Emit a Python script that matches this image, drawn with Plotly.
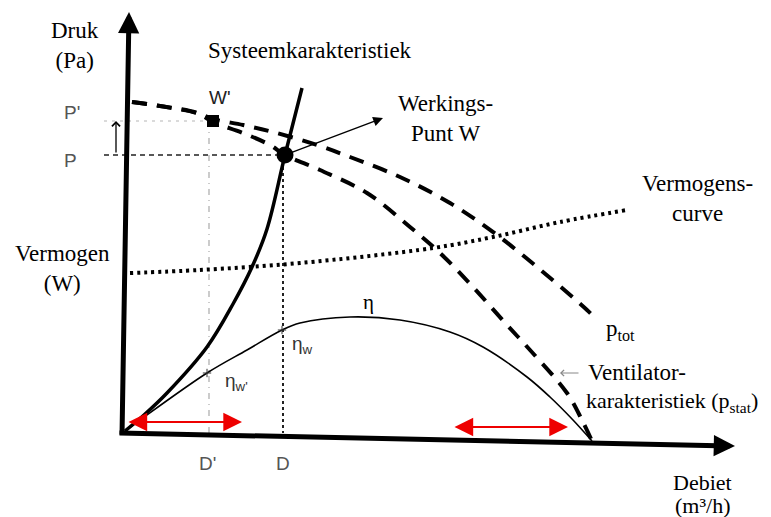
import plotly.graph_objects as go

# diagram units: debiet (x) and druk (y), origin at the axis corner
sys_q = [1, 20, 43, 83, 109, 128, 143, 161, 178]
sys_p = [2, 18, 40, 86, 129, 166, 204, 278, 345]

ptot_q = [8, 36, 73, 89, 119, 149, 193, 226, 276, 326, 373, 419, 463, 473]
ptot_p = [331, 327, 320, 314, 308, 301, 288, 276, 256, 230, 198, 161, 123, 113]

pstat_q = [8, 36, 73, 89, 119, 146, 161, 196, 243, 286, 316, 349, 383, 406, 443, 458, 468]
pstat_p = [331, 327, 320, 311, 300, 288, 278, 263, 240, 206, 180, 146, 108, 83, 40, 13, -8]

verm_q = [6, 76, 176, 309, 369, 436, 503]
verm_p = [160, 163, 170, 185, 196, 211, 223]

eta_q = [1, 16, 83, 123, 158, 176, 226, 276, 326, 359, 403, 426, 449, 468]
eta_p = [2, 13, 60, 83, 103, 110, 116, 113, 101, 86, 56, 36, 13, -8]

# werkpunten W and W'
w_q, w_p = 161, 278
w2_q, w2_p = 89, 312
D_ticks = ["D'", "D"]

FONT = "Liberation Serif"
HAND = "Liberation Sans"

fig = go.Figure()


def line(x, y, color="black", width=2, dash="solid", shape="linear"):
    fig.add_trace(go.Scatter(x=x, y=y, mode="lines", hoverinfo="skip",
                             line=dict(color=color, width=width, dash=dash,
                                       shape=shape)))


# guide lines
line([-20, w2_q], [w2_p, w2_p], color="#b5b5b5", width=1.2, dash="3px,5px")
line([-20, w_q], [w_p, w_p], color="#222", width=1.5, dash="5px,4px")
line([w2_q - 4, w2_q - 4], [w2_p, 0], color="#aaaaaa", width=1.2, dash="6px,5px,1px,5px")
line([w_q - 2, w_q - 2], [w_p, 0], color="#222", width=2, dash="3px,3px")

# curves
line(verm_q, verm_p, width=4, dash="3px,4px", shape="spline")
line(ptot_q, ptot_p, width=4, dash="15px,10px", shape="spline")
line(pstat_q, pstat_p, width=4, dash="15px,10px", shape="spline")
line(eta_q, eta_p, width=1.6, shape="spline")
line(sys_q, sys_p, width=3.5, shape="spline")

# points
fig.add_trace(go.Scatter(x=[w_q], y=[w_p], mode="markers", hoverinfo="skip",
                         marker=dict(color="black", size=17)))
fig.add_trace(go.Scatter(x=[w2_q], y=[w2_p], mode="markers", hoverinfo="skip",
                         marker=dict(color="black", size=12, symbol="square")))
fig.add_trace(go.Scatter(x=[83, 158], y=[60, 103], mode="markers", hoverinfo="skip",
                         marker=dict(color="#333", size=6, symbol="cross-thin",
                                     line=dict(width=1, color="#333"))))


def arrow(tail, head, color="black", width=1.5, size=1.0, head_type=2, both=False):
    fig.add_annotation(x=head[0], y=head[1], ax=tail[0], ay=tail[1],
                       xref="x", yref="y", axref="x", ayref="y", text="",
                       showarrow=True, arrowcolor=color, arrowwidth=width,
                       arrowsize=size, arrowhead=head_type,
                       startarrowhead=head_type, startarrowsize=size,
                       arrowside="end+start" if both else "end")


# axes
arrow((-2, -3), (5, 421), width=5, size=0.85)
arrow((-6, 0), (611, -13), width=5, size=0.85)

# annotations arrows
arrow((w_q, w_p), (259, 315), width=1.4, size=1.4)
arrow((-8, 279), (-8, 312), width=1.3, size=1.2, head_type=4)
arrow((456, 60), (436, 60), color="#888", width=1, size=1.2, head_type=4)
arrow((3, 11), (118, 11), color="#ee0000", width=2.2, size=1.7, both=True)
arrow((329, 6), (444, 6), color="#ee0000", width=2.2, size=1.7, both=True)


def label(txt, x, y, size=23, font=FONT, color="black", anchor="center"):
    fig.add_annotation(x=x, y=y, xref="x", yref="y", text=txt, showarrow=False,
                       xanchor=anchor, yanchor="middle", align="center",
                       font=dict(family=font, size=size, color=color))


label("Druk<br>(Pa)", -49, 388)
label("Systeemkarakteristiek", 186, 383)
label("Werkings-<br>Punt W", 321, 315)
label("Vermogens-<br>curve", 573, 235)
label("Vermogen<br>(W)", -62, 165)
label("η", 244, 131, size=21)
label("p<sub>tot</sub>", 496, 103)
label("Ventilator-", 462, 61, anchor="left")
label("karakteristiek (p<sub>stat</sub>)", 460, 31, size=22, anchor="left")
label("Debiet", 578, -49, size=22)
label("(m³/h)", 578, -72, size=22)

# handwritten marks
label("W'", 96, 336, size=19, font=HAND, color="#222")
label("P'", -52, 321, size=19, font=HAND, color="#555")
label("P", -54, 273, size=19, font=HAND, color="#555")
label("η<sub>w</sub>", 178, 88, size=19, font=HAND, color="#333")
label("η<sub>w'</sub>", 112, 51, size=19, font=HAND, color="#333")
label(D_ticks[0], 83, -30, size=19, font=HAND, color="#555")
label(D_ticks[1], 159, -30, size=19, font=HAND, color="#555")

# the page body keeps its 8px default margin, so the figure is 8px smaller
fig.update_layout(
    width=763, height=509, margin=dict(l=0, r=0, t=0, b=0),
    paper_bgcolor="white", plot_bgcolor="white", showlegend=False,
    xaxis=dict(range=[-116, 647], visible=False, fixedrange=True),
    yaxis=dict(range=[-84, 425], visible=False, fixedrange=True),
)

fig.write_html("out.html")
